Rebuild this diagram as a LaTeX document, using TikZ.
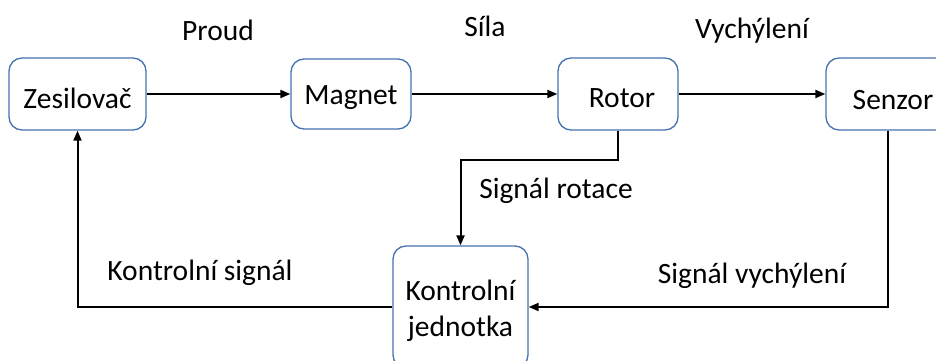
\documentclass[tikz,border=0pt]{standalone}
\usepackage{fontspec}
\setmainfont{Carlito}
\usetikzlibrary{arrows.meta}
\definecolor{boxblue}{RGB}{68,114,176}
\newcommand{\lowr}[2]{\raisebox{-#1}[\height][\depth]{#2}}
\tikzset{
  blk/.style={draw=boxblue, line width=1.3pt, rounded corners=13pt, fill=white,
    font=\fontsize{29.5}{36}\selectfont, inner sep=0pt, align=center},
  lbl/.style={font=\fontsize{29.5}{36}\selectfont, inner sep=0pt},
  conn/.style={line width=2pt, -{Triangle[length=10pt,width=8pt]}}
}
\begin{document}
\begin{tikzpicture}[x=1pt,y=-1pt]
\useasboundingbox (0,0) rectangle (936,361);
\clip (0,0) rectangle (936,361);
\node[blk, minimum width=137pt, minimum height=72pt] (zes) at (77.5,94) {\lowr{4pt}{Zesilovač}};
\node[blk, minimum width=120pt, minimum height=70pt] (mag) at (351,94) {\lowr{4pt}{Magnet}};
\node[blk, minimum width=120pt, minimum height=72pt] (rot) at (618,94) {\lowr{4pt}{\hspace*{8pt}Rotor}};
\node[blk, minimum width=124pt, minimum height=72pt] (sen) at (888,94) {\lowr{6pt}{\hspace*{10pt}Senzor}};
\node[blk, minimum width=135pt, minimum height=122pt] (kon) at (460.5,307) {\lowr{4pt}{\begin{tabular}{@{}c@{}}Kontrolní\\jednotka\end{tabular}}};

\node[lbl] (lproud) at (218,30) {Proud};
\node[lbl] (lsila) at (485,26) {Síla};
\node[lbl] (lvych) at (752,31) {Vychýlení};
\node[lbl] (lrot) at (556,191) {Signál rotace};
\node[lbl] (lkon) at (200,273) {Kontrolní signál};
\node[lbl] (lsv) at (752,276) {Signál vychýlení};

\draw[conn] (zes.east) -- (mag.west);
\draw[conn] (mag.east) -- (rot.west);
\draw[conn] (rot.east) -- (sen.west);
\draw[conn] (rot.south) -- ++(0,29) -| (kon.north);
\draw[conn] (sen.south) |- (kon.east);
\draw[conn] (kon.west) -| (zes.south);
\end{tikzpicture}
\end{document}
